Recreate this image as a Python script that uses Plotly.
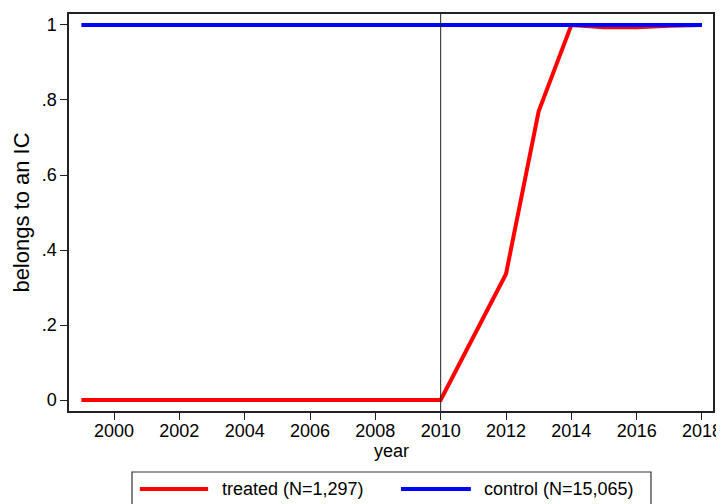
import plotly.graph_objects as go

# Data
years = list(range(1999, 2019))
treated = [0, 0, 0, 0, 0, 0, 0, 0, 0, 0, 0, 0,
           0.168, 0.336, 0.77, 1.0, 0.994, 0.994, 0.998, 1.0]
control = [1.0] * 20

x_ticks = list(range(2000, 2019, 2))
y_ticks = [0, 0.2, 0.4, 0.6, 0.8, 1]
y_labels = ["0", ".2", ".4", ".6", ".8", "1"]

legend_names = ["treated (N=1,297)", "control (N=15,065)"]

FONT = "Liberation Sans, Arial, sans-serif"

fig = go.Figure()
fig.add_trace(
    go.Scatter(x=years, y=treated, mode="lines", line=dict(color="#ff0000", width=4), name=legend_names[0])
)
fig.add_trace(
    go.Scatter(x=years, y=control, mode="lines", line=dict(color="#0000ff", width=4), name=legend_names[1])
)

# vertical reference line at 2010
fig.add_shape(type="line", xref="x", yref="paper", x0=2010, x1=2010, y0=0, y1=1,
              line=dict(color="#222222", width=1))

# hand-drawn legend box (Stata style)
fig.add_shape(type="rect", xref="paper", yref="paper", x0=0.0978, x1=0.9037, y0=-0.26, y1=-0.1537,
              line=dict(color="#333333", width=1.2), fillcolor="white")
fig.add_shape(type="line", xref="paper", yref="paper", x0=0.110, x1=0.216, y0=-0.1965, y1=-0.1965,
              line=dict(color="#ff0000", width=4))
fig.add_shape(type="line", xref="paper", yref="paper", x0=0.5155, x1=0.624, y0=-0.1965, y1=-0.1965,
              line=dict(color="#0000ff", width=4))
fig.add_annotation(x=0.2345, y=-0.1965, xref="paper", yref="paper", text=legend_names[0],
                   showarrow=False, xanchor="left", yanchor="middle", font=dict(size=18, color="black"))
fig.add_annotation(x=0.641, y=-0.1965, xref="paper", yref="paper", text=legend_names[1],
                   showarrow=False, xanchor="left", yanchor="middle", font=dict(size=18, color="black"))

# x axis title, placed by hand
fig.add_annotation(x=0.5, y=-0.1008, xref="paper", yref="paper", text="year",
                   showarrow=False, xanchor="center", yanchor="middle", font=dict(size=18, color="black"))

# the page body has an 8px margin, so shrink by 8 and pull left/top margins in
fig.update_layout(
    width=716,
    height=496,
    margin=dict(l=61, r=11, t=6, b=93),
    paper_bgcolor="white",
    plot_bgcolor="white",
    showlegend=False,
    font=dict(family=FONT, size=18, color="black"),
    xaxis=dict(
        range=[1998.622, 2018.337],
        tickvals=x_ticks,
        ticks="outside",
        ticklen=7,
        tickcolor="#222222",
        ticklabelstandoff=-4,
        showgrid=False,
        zeroline=False,
        showline=True,
        mirror=True,
        linecolor="#222222",
        linewidth=1.5,
        automargin=False,
    ),
    yaxis=dict(
        range=[-0.0293, 1.0293],
        tickvals=y_ticks,
        ticktext=y_labels,
        ticks="outside",
        ticklen=7,
        tickcolor="#222222",
        showgrid=False,
        zeroline=False,
        showline=True,
        mirror=True,
        linecolor="#222222",
        linewidth=1.5,
        automargin=False,
        title=dict(text="belongs to an IC", standoff=6),
    ),
)

fig.write_html("out.html")
